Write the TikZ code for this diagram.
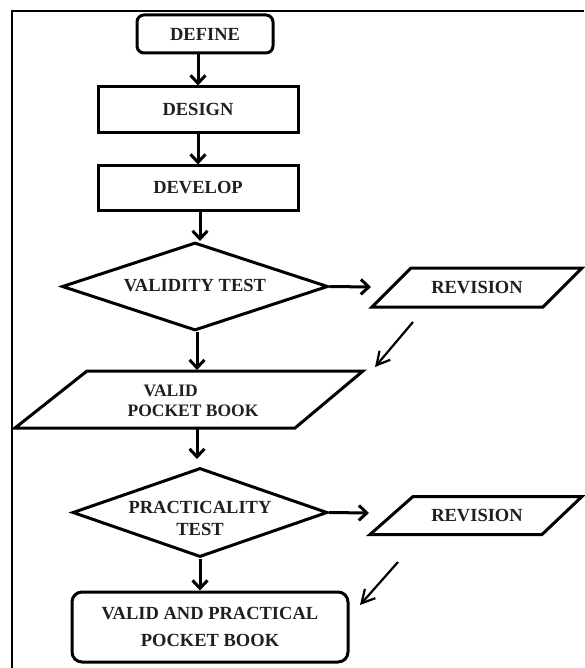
\documentclass[tikz,border=0pt]{standalone}
\usepackage{fontspec}
\setmainfont{Liberation Serif}
\usetikzlibrary{arrows.meta,shapes.geometric,calc}
\begin{document}
\begin{tikzpicture}[x=1pt,y=-1pt,
  txt/.style={inner sep=0pt,font=\fontsize{18.5}{21}\selectfont\bfseries,text=black!88},
  box/.style={txt,draw=black,line width=3pt},
  rbox/.style={box,rounded corners=7pt},
  dia/.style={box,diamond,aspect=3.5},
  shapeline/.style={line width=3pt,line join=miter},
  arr/.style={line width=3pt,-{Straight Barb[length=8pt,width=15pt]}},
  darr/.style={line width=2.2pt,-{Straight Barb[length=13pt,width=14pt]}},
]
\useasboundingbox (0,0) rectangle (584,668);
% frame
\draw[line width=2.2pt] (584,11) -- (12,11) -- (12,668);

% nodes
\node[rbox,minimum width=136pt,minimum height=38pt] (define) at (205,34) {DEFINE};
\node[box,minimum width=200pt,minimum height=46pt] (design) at (198,110) {\raisebox{2pt}{DESIGN}};
\node[box,minimum width=200pt,minimum height=44pt] (develop) at (198,188) {\raisebox{2pt}{DEVELOP}};
\node[dia,minimum width=266pt,minimum height=88pt] (vtest) at (195,286.5) {\raisebox{3pt}{VALIDITY TEST}};

\node[txt] (rev1) at (477,287.5) {REVISION};
\draw[shapeline] ($(rev1)+(-66,-19.5)$) -- ($(rev1)+(105,-19.5)$) -- ($(rev1)+(66,19.5)$) -- ($(rev1)+(-105,19.5)$) -- cycle;
\coordinate (rev1in) at (371,287);

\node[txt,align=left,font=\fontsize{17.5}{20.5}\selectfont\bfseries] (vpb) at (193,401) {\hspace*{16pt}VALID\\POCKET BOOK};
\coordinate (vpbc) at (190,399.5);
\draw[shapeline] ($(vpbc)+(-103,-28.5)$) -- ($(vpbc)+(173,-28.5)$) -- ($(vpbc)+(105,28.5)$) -- ($(vpbc)+(-175,28.5)$) -- cycle;
\coordinate (vpbtop) at (197,370);
\coordinate (vpbbot) at (197,429);
\coordinate (ptop) at (197,459);

\node[dia,minimum width=255pt,minimum height=89pt] (ptest) at (200,512.5) {};
\node[txt,align=center] (ptxt) at (200,518) {PRACTICALITY\\[1pt]TEST};

\node[txt] (rev2) at (477,515.5) {REVISION};
\draw[shapeline] ($(rev2)+(-64,-19)$) -- ($(rev2)+(105,-19)$) -- ($(rev2)+(65,19)$) -- ($(rev2)+(-107,19)$) -- cycle;
\coordinate (rev2in) at (369,513);

\node[rbox,rounded corners=10pt,minimum width=276pt,minimum height=70pt,align=center] (final) at (210,627) {VALID AND PRACTICAL\\[6pt]POCKET BOOK};

% diagonal arrows
\coordinate (d1s) at (413,322);
\coordinate (d1e) at (375,367);
\coordinate (d2s) at (398,562);
\coordinate (d2e) at (360,605);

% connectors
\draw[arr] (design.north |- define.south) -- (design.north);
\draw[arr] (design.south) -- (develop.north);
\draw[arr] ([xshift=2pt]develop.south) -- ([xshift=2pt]develop.south |- 0,241);
\draw[arr] (vtest.east) -- (rev1in);
\draw[arr] (vpbtop |- vtest.south) -- (vpbtop);
\draw[darr] (d1s) -- (d1e);
\draw[arr] (vpbbot) -- (ptop);
\draw[arr] (ptest.east) -- (rev2in);
\draw[arr] (ptest.south) -- (ptest.south |- final.north);
\draw[darr] (d2s) -- (d2e);
\end{tikzpicture}
\end{document}
